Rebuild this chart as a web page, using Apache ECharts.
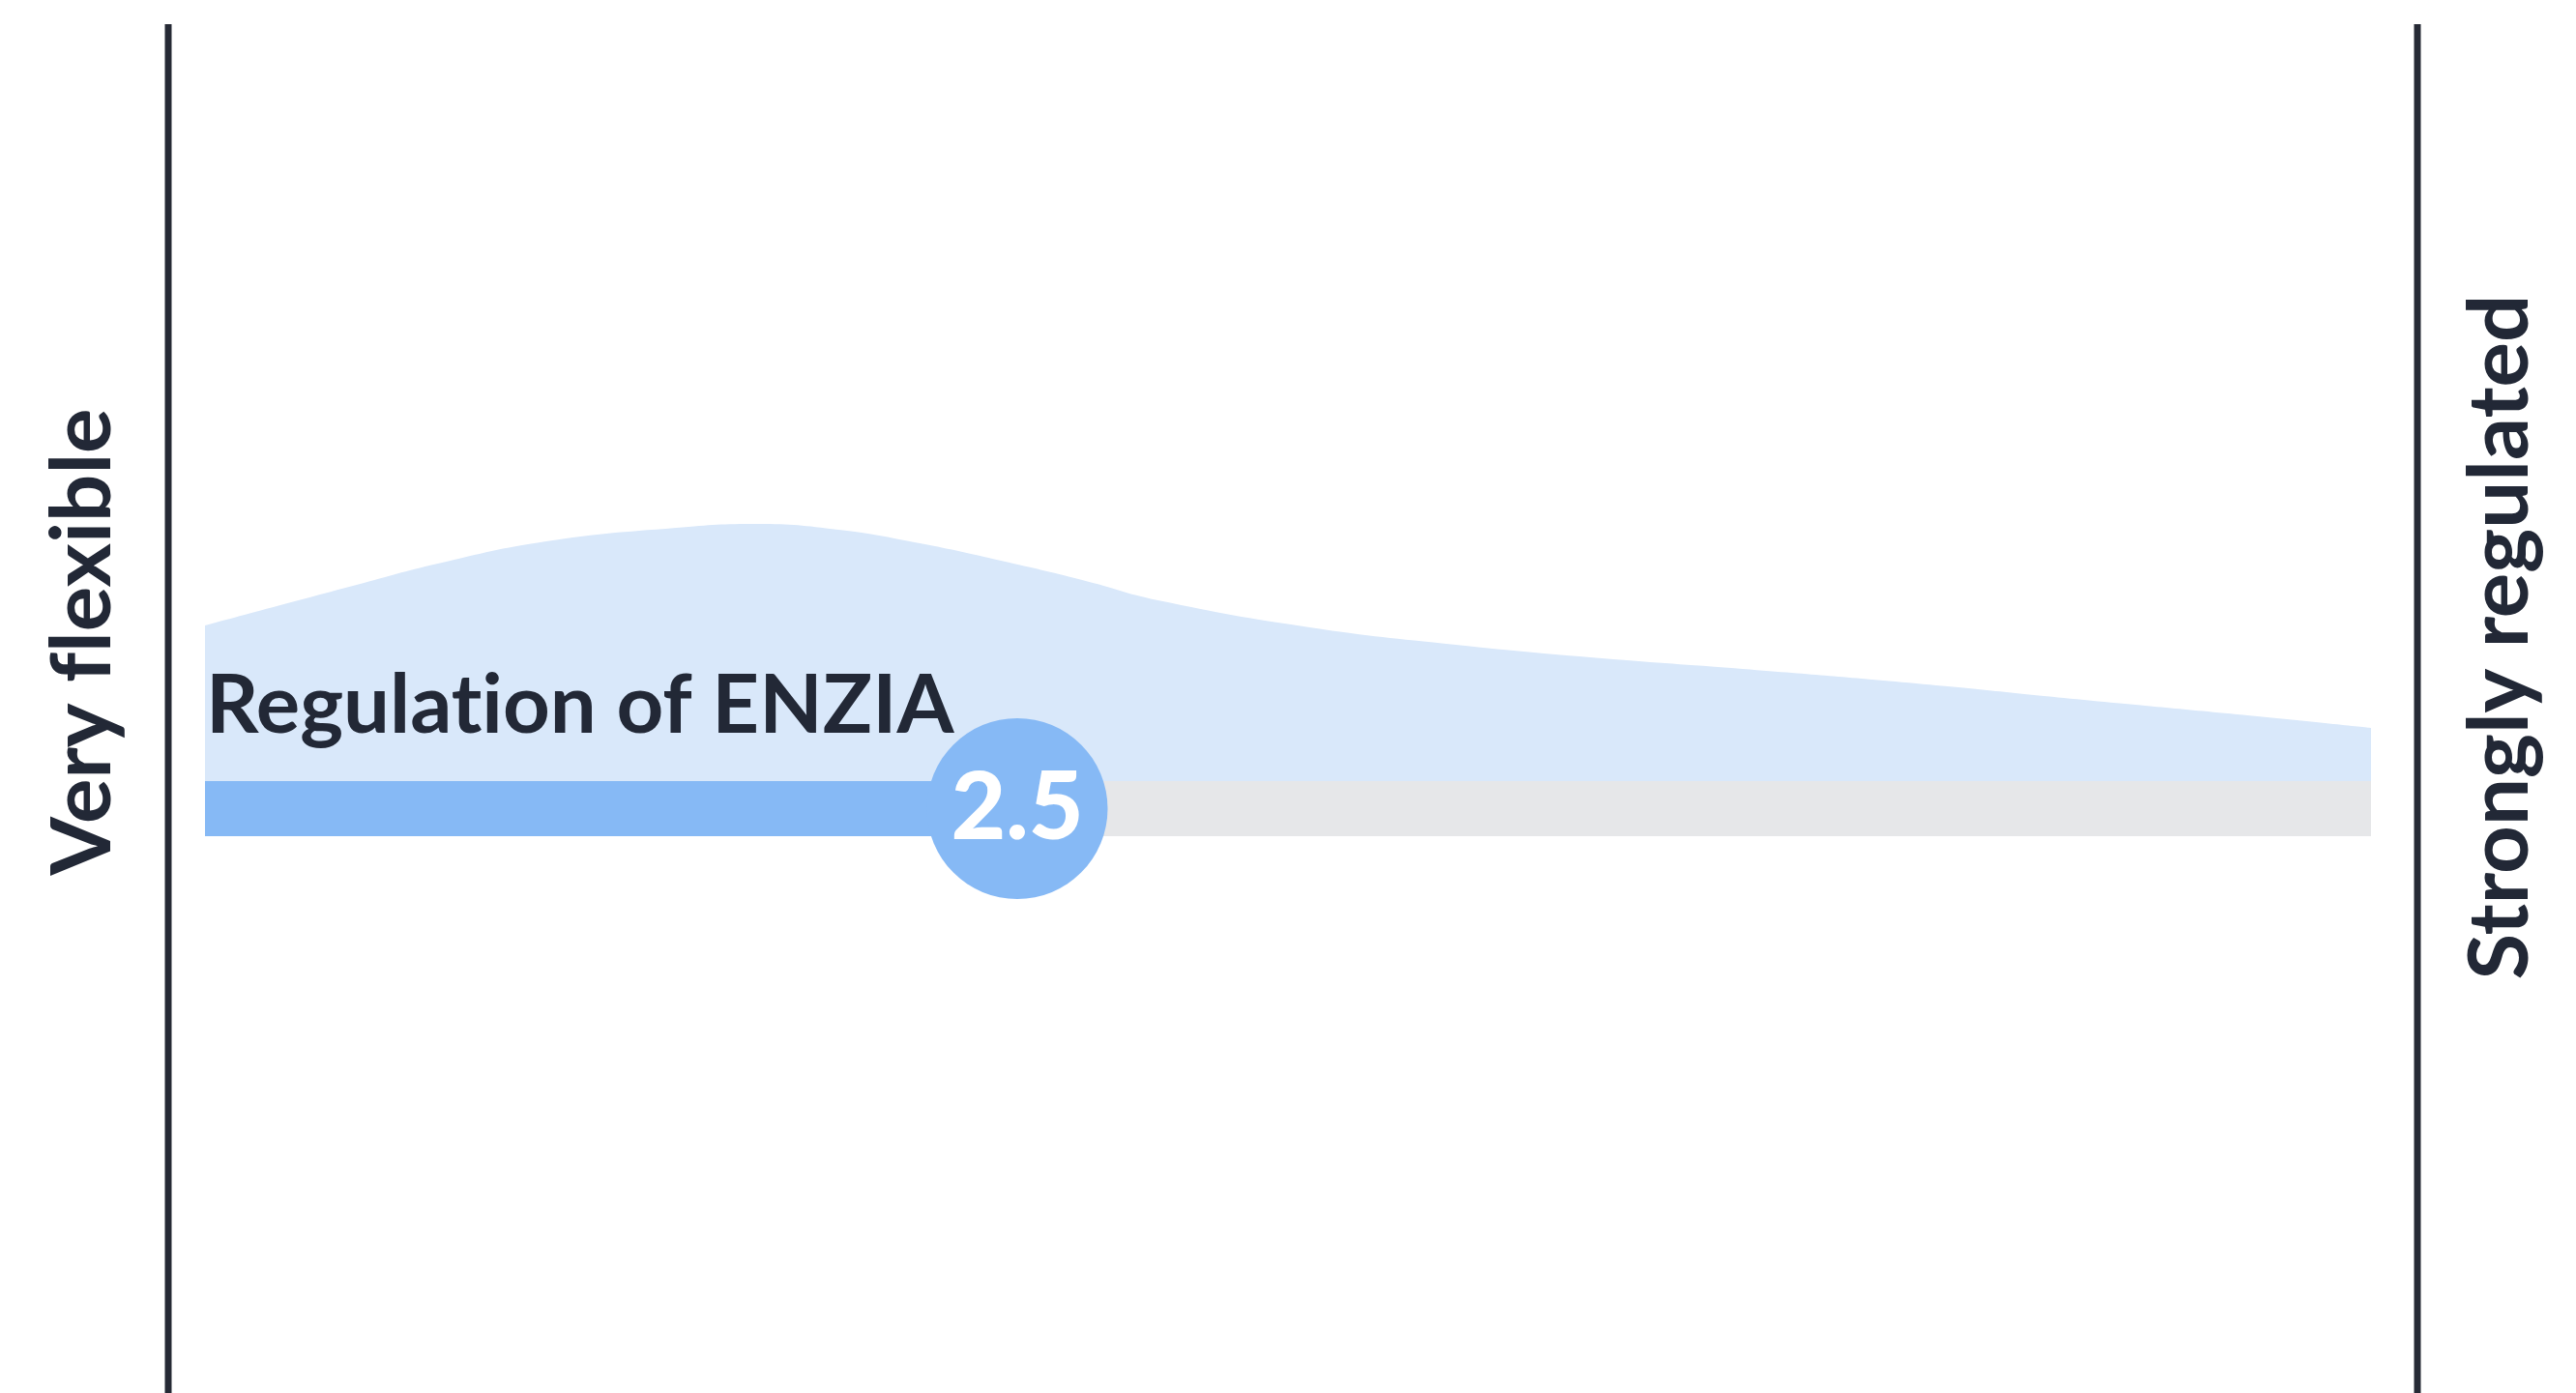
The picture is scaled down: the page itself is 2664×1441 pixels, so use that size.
<!DOCTYPE html>
<html>
<head>
<meta charset="utf-8">
<style>
  html, body { margin: 0; padding: 0; background: #ffffff; }
  #chart { width: 2664px; height: 1441px; }
</style>
<script src="https://cdn.jsdelivr.net/npm/echarts@6/dist/echarts.min.js"></script>
</head>
<body>
<div id="chart"></div>
<script>
// ---- data ----
const categories = ['Regulation of ENZIA'];
const scaleMin = 1;
const scaleMax = 5;
const scores = [2.5];
const scoreLabels = ['2.5'];
const poleLabels = ['Very flexible', 'Strongly regulated'];
// distribution of responses (relative density) along the scale
const densityX = [1.00, 1.28, 1.43, 1.63, 1.87, 2.02, 2.17, 2.32, 2.47, 2.62, 2.76, 3.04, 3.31, 3.58, 3.84, 4.16, 4.47, 4.79, 5.00];
const densityY = [0.161, 0.203, 0.225, 0.248, 0.262, 0.266, 0.260, 0.246, 0.228, 0.208, 0.187, 0.159, 0.141, 0.127, 0.116, 0.101, 0.084, 0.067, 0.055];

// draw text without optional ligatures (plain glyphs like the original)
['fillText', 'measureText'].forEach(function (fn) {
  const orig = CanvasRenderingContext2D.prototype[fn];
  CanvasRenderingContext2D.prototype[fn] = function () {
    try { this.fontVariantLigatures = 'none'; } catch (e) {}
    try { if ('letterSpacing' in this) this.letterSpacing = '0.01px'; } catch (e) {}
    return orig.apply(this, arguments);
  };
});

// ---- chart ----
const chart = echarts.init(document.getElementById('chart'), null, { renderer: 'canvas' });
const FONT = 'Lato, Roboto, sans-serif';
const DARK = '#222836';
const BLUE = '#86b9f5';
const LIGHT = '#d9e8fa';
const GRAY = '#e6e7e9';

const option = {
  backgroundColor: '#ffffff',
  animation: false,
  grid: [
    { left: 212, right: 212, top: 508, height: 300 },
    { left: 212, right: 212, top: 808, height: 57 }
  ],
  xAxis: [
    { gridIndex: 0, type: 'value', min: scaleMin, max: scaleMax, show: false },
    { gridIndex: 1, type: 'value', min: scaleMin, max: scaleMax, show: false }
  ],
  yAxis: [
    { gridIndex: 0, type: 'value', min: 0, max: 0.3, show: false },
    { gridIndex: 1, type: 'category', data: categories, show: false }
  ],
  series: [
    {
      type: 'line',
      xAxisIndex: 0, yAxisIndex: 0,
      data: densityX.map((x, i) => [x, densityY[i]]),
      smooth: 0.45,
      showSymbol: false,
      lineStyle: { width: 0 },
      areaStyle: { color: LIGHT, opacity: 1 },
      silent: true,
      z: 1
    },
    {
      type: 'bar',
      xAxisIndex: 1, yAxisIndex: 1,
      data: scores,
      barWidth: '100%',
      showBackground: true,
      backgroundStyle: { color: GRAY, opacity: 1 },
      itemStyle: { color: BLUE, opacity: 1 },
      clip: true,
      silent: true,
      z: 2
    },
    {
      type: 'scatter',
      xAxisIndex: 1, yAxisIndex: 1,
      data: scores.map((s, i) => [s, i]),
      symbol: 'circle',
      symbolSize: 187,
      itemStyle: { color: BLUE, opacity: 1 },
      clip: false,
      silent: true,
      z: 3,
      label: {
        show: true,
        position: 'inside',
        formatter: (p) => scoreLabels[p.dataIndex],
        color: '#ffffff',
        fontFamily: FONT,
        fontWeight: 900,
        fontSize: 98
      }
    }
  ],
  graphic: [
    { type: 'line', z: 10, shape: { x1: 174, y1: 25, x2: 174, y2: 1441 }, style: { stroke: '#262a35', lineWidth: 7 } },
    { type: 'line', z: 10, shape: { x1: 2500, y1: 25, x2: 2500, y2: 1441 }, style: { stroke: '#262a35', lineWidth: 7 } },
    {
      type: 'text', z: 10, x: 86, y: 664, rotation: Math.PI / 2,
      style: { text: poleLabels[0], fill: DARK, font: 'bold 87px ' + FONT, align: 'center', verticalAlign: 'middle' }
    },
    {
      type: 'text', z: 10, x: 2586, y: 659, rotation: Math.PI / 2,
      style: { text: poleLabels[1], fill: DARK, font: 'bold 87px ' + FONT, align: 'center', verticalAlign: 'middle' }
    },
    {
      type: 'text', z: 10, x: 213, y: 731,
      style: { text: categories[0], fill: DARK, font: 'bold 85px ' + FONT, align: 'left', verticalAlign: 'middle' }
    }
  ]
};
chart.setOption(option);
</script>
</body>
</html>
